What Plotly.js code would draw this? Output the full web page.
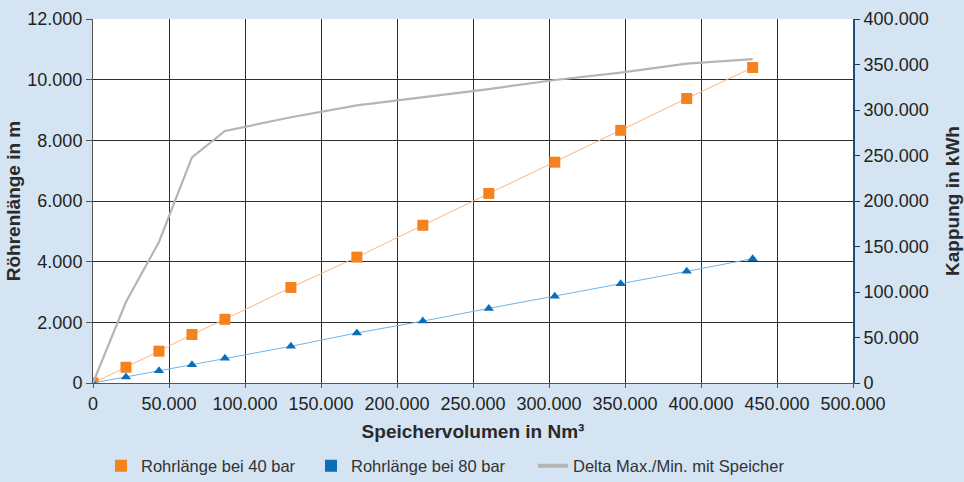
<!DOCTYPE html>
<html>
<head>
<meta charset="utf-8">
<script src="https://cdn.plot.ly/plotly-3.0.1.min.js"></script>
<style>html,body{margin:0;padding:0;background:#d4e4f3;}#chart{width:964px;height:482px;}</style>
</head>
<body>
<div id="chart"></div>
<script>
// Speichervolumen in Nm³
const volumen = [0, 21700, 43400, 65100, 86800, 130200, 173600, 217000, 260400, 303800, 347200, 390600, 434000];
// Rohrlänge bei 40 bar (m)
const rohr40 = [0, 520, 1050, 1600, 2100, 3150, 4150, 5200, 6250, 7280, 8330, 9380, 10400];
// Rohrlänge bei 80 bar (m)
const rohr80 = [0, 200, 400, 600, 820, 1210, 1650, 2040, 2460, 2860, 3270, 3680, 4100];
// Delta Max./Min. mit Speicher (kWh)
const delta = [0, 89000, 155000, 248000, 277000, 292000, 305000, 314000, 323000, 333000, 341000, 351000, 356000];

const names = ['Rohrlänge bei 40 bar', 'Rohrlänge bei 80 bar', 'Delta Max./Min. mit Speicher'];

const xTicks = [0, 50000, 100000, 150000, 200000, 250000, 300000, 350000, 400000, 450000, 500000];
const xTickText = ['0', '50.000', '100.000', '150.000', '200.000', '250.000', '300.000', '350.000', '400.000', '450.000', '500.000'];
const yTicks = [0, 2000, 4000, 6000, 8000, 10000, 12000];
const yTickText = ['0', '2.000', '4.000', '6.000', '8.000', '10.000', '12.000'];
const y2Ticks = [0, 50000, 100000, 150000, 200000, 250000, 300000, 350000, 400000];
const y2TickText = ['0', '50.000', '100.000', '150.000', '200.000', '250.000', '300.000', '350.000', '400.000'];

const font = 'Liberation Sans, Arial, sans-serif';
const titleFont = {size: 19, family: font, color: '#2a2a2a', weight: 'bold'};

const traces = [
  {x: volumen, y: delta, yaxis: 'y2', mode: 'lines', name: names[2], showlegend: false,
   line: {color: '#b5b5b5', width: 2.2}},
  {x: volumen, y: rohr40, mode: 'lines+markers', name: names[0], showlegend: false,
   line: {color: '#f9b67e', width: 1}, marker: {symbol: 'square', size: 11, color: '#f4821f'}},
  {x: volumen, y: rohr80, mode: 'lines+markers', name: names[1], showlegend: false,
   line: {color: '#74b3e2', width: 1}, marker: {symbol: 'triangle-up', size: 9, color: '#0a6fb8'}},
  // legend entries
  {x: [null], y: [null], mode: 'markers', name: names[0], legend: 'legend', marker: {symbol: 'square', size: 12, color: '#f4821f'}},
  {x: [null], y: [null], mode: 'markers', name: names[1], legend: 'legend2', marker: {symbol: 'square', size: 12, color: '#0a6fb8'}},
  {x: [null], y: [null], mode: 'lines', name: names[2], legend: 'legend3', line: {color: '#b5b5b5', width: 4}}
];

function leg(xpx) {
  return {orientation: 'h', xref: 'container', yref: 'container', x: xpx / 964, xanchor: 'left',
          y: 0.033, yanchor: 'middle', font: {size: 16.5, color: '#333333'}, bgcolor: 'rgba(0,0,0,0)'};
}

const layout = {
  width: 964, height: 482,
  paper_bgcolor: '#d4e4f3', plot_bgcolor: '#ffffff',
  margin: {l: 93, r: 111, t: 19, b: 99, autoexpand: false},
  font: {family: font, color: '#231f20', size: 18},
  showlegend: true,
  legend: leg(101),
  legend2: leg(311),
  legend3: leg(533),
  xaxis: {range: [0, 500000], tickvals: xTicks, ticktext: xTickText, showgrid: true,
          gridcolor: '#2e2e2e', gridwidth: 1, showline: true, linecolor: '#555', linewidth: 1,
          ticks: 'outside', ticklen: 4, tickcolor: '#555', zeroline: false,
          tickfont: {size: 18, family: font, color: '#231f20'},
          title: {text: 'Speichervolumen in Nm³', font: titleFont, standoff: 12}},
  yaxis: {range: [0, 12000], tickvals: yTicks, ticktext: yTickText, showgrid: true,
          gridcolor: '#2e2e2e', gridwidth: 1, showline: true, linecolor: '#555', linewidth: 1,
          ticks: 'outside', ticklen: 6, tickcolor: '#555', zeroline: false,
          tickfont: {size: 18, family: font, color: '#231f20'},
          title: {text: 'Röhrenlänge in m', font: titleFont, standoff: 1}},
  yaxis2: {range: [0, 400000], tickvals: y2Ticks, ticktext: y2TickText, overlaying: 'y', side: 'right',
           showgrid: false, showline: true, linecolor: '#1d4f7a', linewidth: 2,
           ticks: 'outside', ticklen: 5, tickcolor: '#1d3a55', zeroline: false,
           tickfont: {size: 18, family: font, color: '#231f20'},
           title: {text: 'Kappung in kWh', font: titleFont, standoff: 18}}
};

Plotly.newPlot('chart', traces, layout, {displayModeBar: false, staticPlot: true});
</script>
</body>
</html>
